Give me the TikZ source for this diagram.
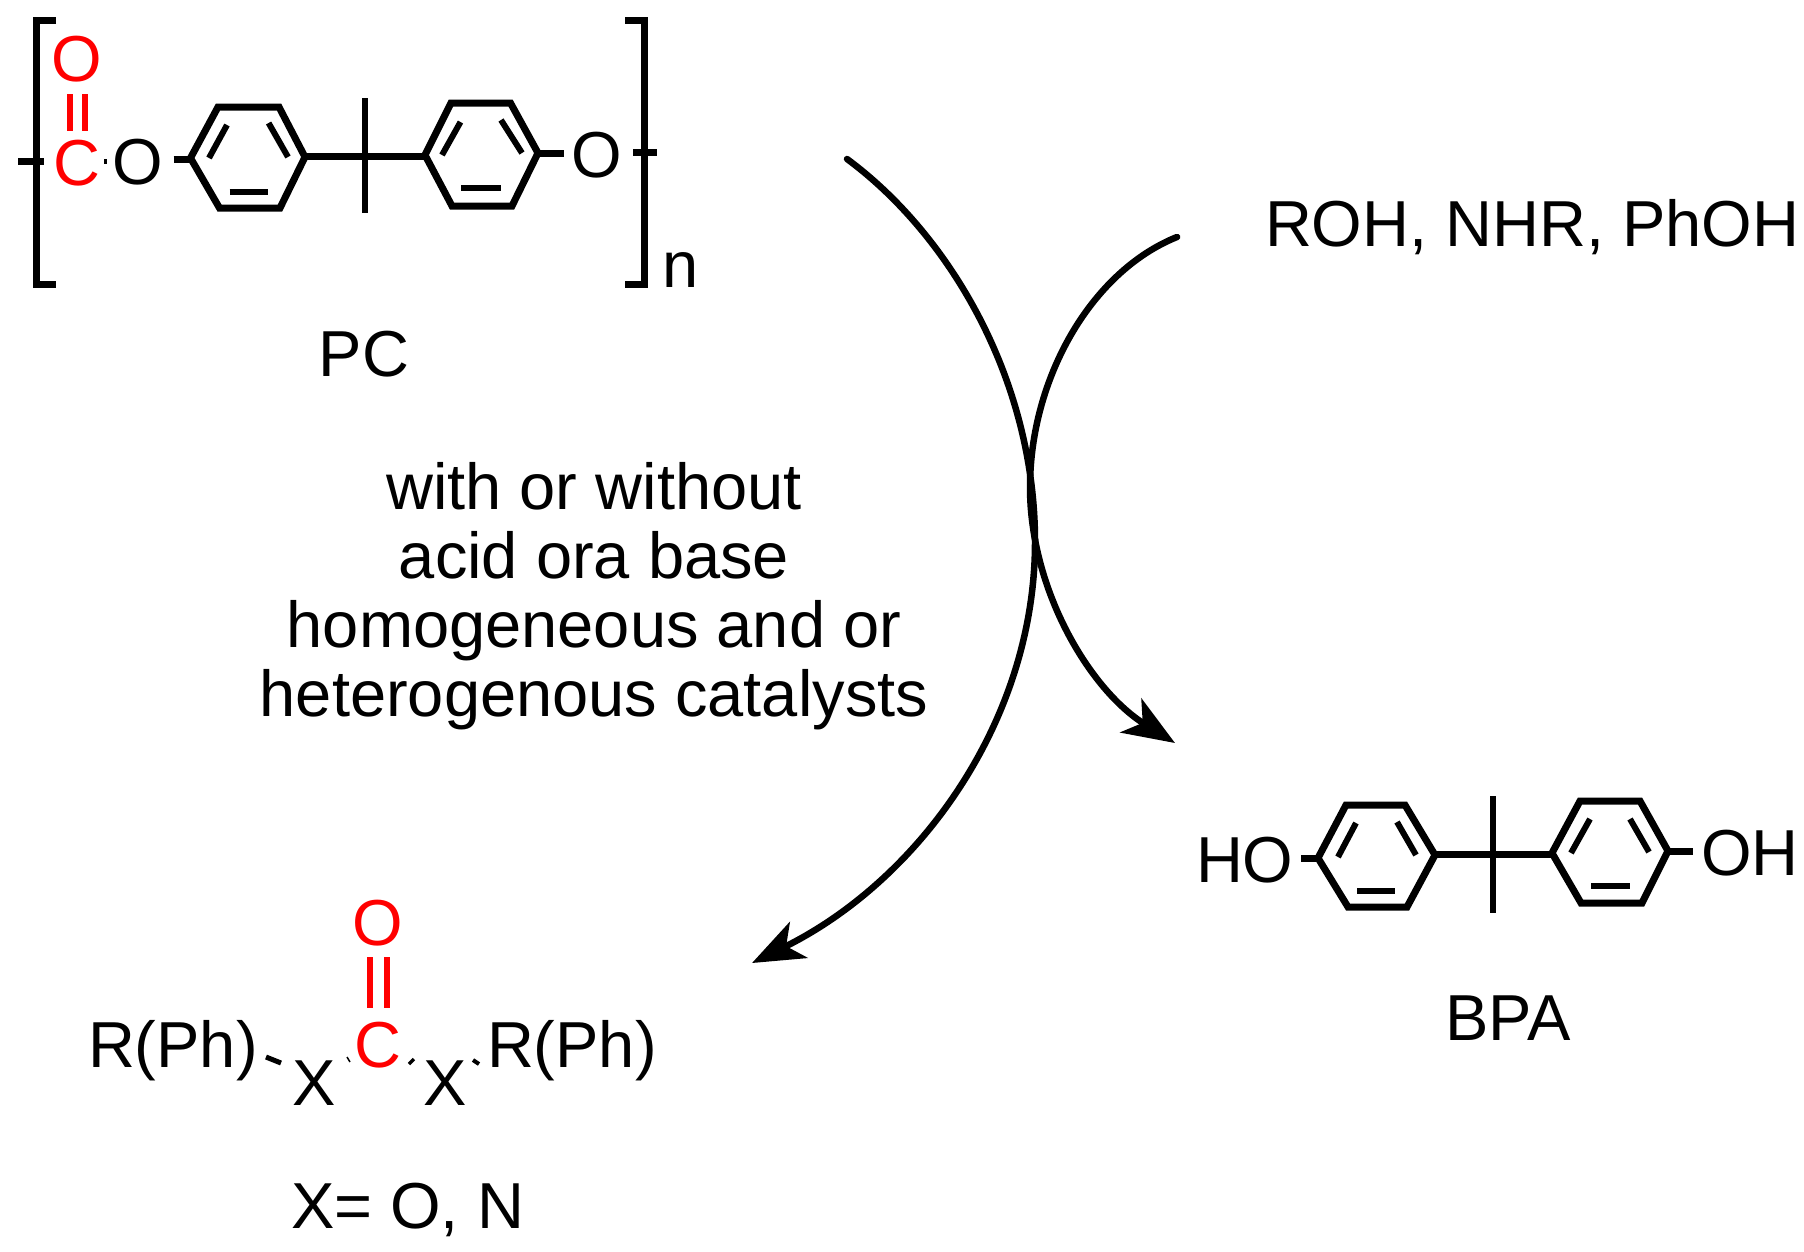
\documentclass[tikz,border=0pt]{standalone}
\usepackage{fontspec}
\setmainfont{Liberation Sans}
\usetikzlibrary{arrows.meta}
\tikzset{
  x=1pt,y=-1pt,
  atom/.style={inner sep=0pt,outer sep=0pt,anchor=base,font=\fontsize{65}{69}\selectfont},
  redatom/.style={atom,text=red},
  label/.style={atom,anchor=base west},
  bond/.style={line width=7pt,line cap=butt,line join=miter},
  inner/.style={line width=6pt,line cap=butt},
  redbond/.style={line width=5.5pt,red,line cap=butt},
  frag/.style={line width=3pt,line cap=butt},
  curved/.style={line width=6.5pt,line cap=round},
  head/.style={-{Stealth[length=52pt,width=40pt,inset=14pt]}}
}
\newcommand{\benzene}[9]{%
  \draw[bond] #1 -- #2 -- #3 -- #4 -- #5 -- #6 -- cycle;
  \draw[inner] #7;\draw[inner] #8;\draw[inner] #9;}
\begin{document}
\begin{tikzpicture}
\useasboundingbox[fill=white] (0,0) rectangle (1804,1251);

% ---------- PC ----------
\draw[bond,line join=miter] (56,20) -- (36,20) -- (36,284) -- (56,284);
\draw[bond,line join=miter] (625,20) -- (644,20) -- (644,284) -- (625,284);
\node[redatom] (pcOd) at (77,81) {O};
\node[redatom] (pcC) at (77,185) {C};
\node[atom] (pcO1) at (138,184) {O};
\node[atom] (pcO2) at (597,177) {O};
\node[label] (pcn) at (662,287) {n};
\node[atom] (pcName) at (364,376) {PC};
\coordinate (pcEndL) at (18,161);
\coordinate (pcEndLb) at (44,161);
\coordinate (pcEndR) at (633,152);
\coordinate (pcEndRb) at (657,152);
\draw[bond] (pcEndL) -- (pcEndLb);
\draw[bond] (pcEndR) -- (pcEndRb);
\draw[redbond] (70,94) -- (70,131);
\draw[redbond] (85,94) -- (85,131);
\draw[frag] (105,159) -- (105,164);
\benzene{(190.5,158)}{(218,107)}{(279,107)}{(305,157)}{(280,208)}{(219.5,208)}
  {(209,158) -- (227,125)}{(288,157) -- (268.6,123)}{(229.5,192) -- (267.7,192)}
\benzene{(425,155)}{(451,103)}{(510.5,103)}{(538,153)}{(512,206)}{(452,206)}
  {(442,155) -- (460.5,122)}{(522,153) -- (501,120)}{(461.4,188) -- (501.4,188)}
\coordinate (pcA) at (173.5,159);
\coordinate (pcA2) at (190.5,159);
\coordinate (pcB) at (305,156);
\coordinate (pcB2) at (425,156);
\coordinate (pcD) at (539,153);
\coordinate (pcD2) at (564,153);
\coordinate (pcV1) at (365,98);
\coordinate (pcV2) at (365,213);
\draw[bond] (pcA) -- (pcA2);
\draw[bond] (pcB) -- (pcB2);
\draw[bond] (pcD) -- (pcD2);
\draw[bond,line width=6pt] (pcV1) -- (pcV2);

% ---------- reagents and conditions ----------
\node[label] (reag) at (1265,246) {ROH, NHR, PhOH};
\node[atom,anchor=center,align=center] (cond) at (594,596) {with or without\\acid ora base\\homogeneous and or\\heterogenous catalysts};

% ---------- curved arrows ----------
\coordinate (a1s) at (847,159);
\coordinate (a1m) at (1035,542);
\coordinate (a1e) at (752,963);
\coordinate (a2s) at (1177,237);
\coordinate (a2m) at (1030,487);
\coordinate (a2e) at (1175,743);
\draw[curved,head] (a1s) .. controls (950,235) and (1035,380) .. (a1m)
   .. controls (1035,720) and (920,880) .. (a1e);
\draw[curved,head] (a2s) .. controls (1090,272) and (1030,380) .. (a2m)
   .. controls (1030,590) and (1090,690) .. (a2e);

% ---------- carbonate product ----------
\node[redatom] (prOd) at (378,945) {O};
\node[redatom] (prC) at (378,1067) {C};
\node[label] (prRl) at (88,1067) {R(Ph)};
\node[label] (prRr) at (487,1067) {R(Ph)};
\node[atom] (prXl) at (314,1105) {X};
\node[atom] (prXr) at (445,1105) {X};
\node[label] (prNote) at (291,1228) {X= O, N};
\draw[redbond] (370,957) -- (370,1008);
\draw[redbond] (387,957) -- (387,1008);
\draw[frag,line width=5pt] (266,1057) -- (281,1063);
\draw[frag,line width=1.5pt] (347,1057) -- (350,1062);
\draw[frag,line width=3.5pt] (409,1064) -- (414,1059);
\draw[frag,line width=4pt] (473,1060) -- (479,1064);

% ---------- BPA ----------
\node[label] (bpHO) at (1196,882) {HO};
\node[label] (bpOH) at (1701,875) {OH};
\node[atom] (bpName) at (1508,1040) {BPA};
\benzene{(1318,858)}{(1346,805)}{(1405,805)}{(1435,855)}{(1407,907)}{(1348,907)}
  {(1338,857) -- (1356,823)}{(1416,855) -- (1397,822)}{(1357,891) -- (1395,891)}
\benzene{(1552,853)}{(1580,801)}{(1640,801)}{(1668,851)}{(1642,903)}{(1581,903)}
  {(1571,853) -- (1590,819)}{(1649,852) -- (1630,819)}{(1591,886) -- (1630,886)}
\coordinate (bpA) at (1301,858);
\coordinate (bpA2) at (1318,858);
\coordinate (bpB) at (1435,854);
\coordinate (bpB2) at (1552,854);
\coordinate (bpD) at (1668,851);
\coordinate (bpD2) at (1693,851);
\coordinate (bpV1) at (1493,796);
\coordinate (bpV2) at (1493,913);
\draw[bond] (bpA) -- (bpA2);
\draw[bond] (bpB) -- (bpB2);
\draw[bond] (bpD) -- (bpD2);
\draw[bond,line width=6pt] (bpV1) -- (bpV2);
\end{tikzpicture}
\end{document}
